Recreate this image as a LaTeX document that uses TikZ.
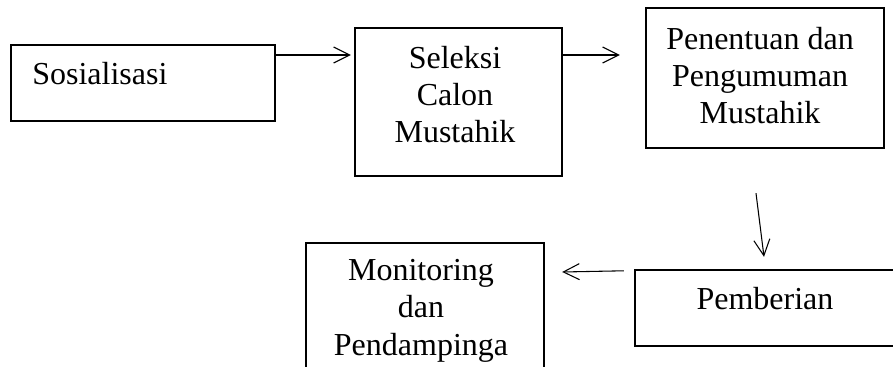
\documentclass[tikz,border=0pt]{standalone}
\usepackage{fontspec}
\setmainfont{Liberation Serif}
\usetikzlibrary{arrows.meta,calc}
\tikzset{
  box/.style={draw, rectangle, line width=1.8pt, inner sep=0pt},
  txt/.style={font=\fontsize{24}{28}\selectfont, align=center, inner sep=0pt},
  arr/.style={-{Straight Barb[length=12pt,width=12pt]}, line width=0.8pt},
}
\begin{document}
\begin{tikzpicture}[x=0.75pt,y=-0.75pt]
\useasboundingbox (0,0) rectangle (893,367);
\clip (0,0) rectangle (893,367);
\node[box, minimum width=198pt, minimum height=57pt] (sos) at (143,83){};
\node[box, minimum width=155.25pt, minimum height=111pt] (sel) at (458.5,102){};
\node[box, minimum width=178.5pt, minimum height=105pt] (pen) at (765,78){};
\node[box, minimum width=198pt, minimum height=57pt] (pem) at (767,308){};
\node[box, minimum width=178.5pt, minimum height=105pt] (mon) at (425,313){};
\node[txt, anchor=base west] (sostxt) at (32,85){Sosialisasi};
\node[txt, anchor=base] (seltxt) at (455,143){Seleksi\\Calon\\Mustahik};
\node[txt, anchor=base] (pentxt) at (760,124){Penentuan dan\\Pengumuman\\Mustahik};
\node[txt, anchor=base] (pemtxt) at (765,309){Pemberian};
\node[txt, anchor=base] (montxt) at (421,355){Monitoring\\dan\\Pendampinga};
\draw[arr] ($(sos.east)+(0,-28)$) -- ($(sel.west)+(-3,-47)$);
\draw[arr] ($(sel.east)+(0,-47)$) -- ($(pen.west)+(-25,-23)$);
\draw[arr] ($(pen.south)+(-9,44)$) -- ($(pem.north)+(-3,-12)$);
\draw[arr] ($(pem.north west)+(-10,2)$) -- ($(mon.east)+(17,-41)$);
\end{tikzpicture}
\end{document}
